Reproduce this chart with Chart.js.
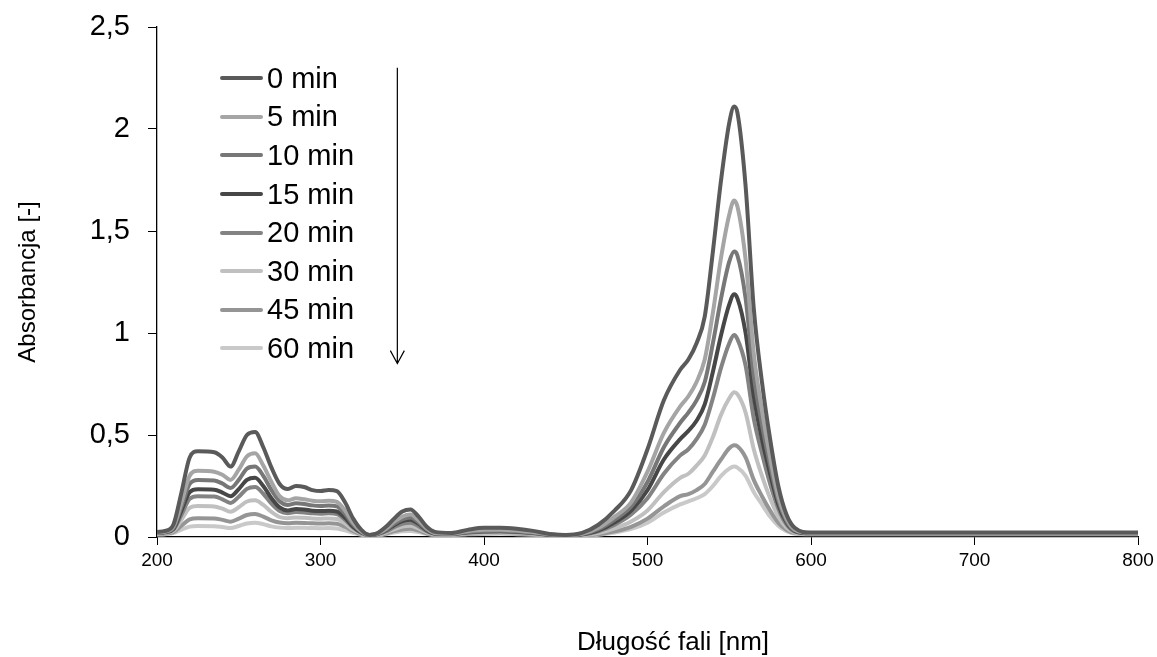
<!DOCTYPE html>
<html>
<head>
<meta charset="utf-8">
<script src="https://cdn.jsdelivr.net/npm/chart.js@4.4.0/dist/chart.umd.min.js"></script>
<style>
  body { margin: 0; background: #fff; }
  #wrap { position: relative; width: 1157px; height: 657px; font-family: 'Liberation Sans', Arial, sans-serif; }
  #legend { position: absolute; left: 220px; top: 59px; }
  .row { display: flex; align-items: center; height: 38.6px; font-size: 29px; color: #000; }
  .swatch { width: 43px; height: 4px; border-radius: 2px; margin-right: 4px; }
  #xtitle { position: absolute; left: 673px; top: 626px; transform: translateX(-50%); font-size: 26px; white-space: nowrap; }
</style>
</head>
<body>
<div id="wrap">
  <canvas id="chart" width="1157" height="657"></canvas>
  <div id="legend"></div>
  <div id="xtitle">Długość fali [nm]</div>
</div>
<script>
const wavelengths = [200,205,210,215,220,225,235,240,245,250,255,260,265,270,275,280,285,290,295,300,305,310,315,320,325,330,335,340,345,350,355,360,365,370,380,390,400,410,420,430,440,450,460,470,480,490,500,510,520,525,530,535,540,545,550,553,555,560,565,570,575,580,585,590,600,650,700,750,800];

const abs0 = [0.025,0.03,0.06,0.22,0.39,0.42, 0.415,0.39,0.345,0.42,0.50,0.515,0.44,0.34,0.26,0.235, 0.25,0.245,0.23,0.225,0.23,0.225,0.17,0.09,0.035,0.01, 0.02,0.05,0.09,0.125,0.135,0.10,0.05,0.025, 0.02,0.035,0.045,0.045,0.04,0.03,0.015,0.01,0.02, 0.06,0.13,0.23,0.43,0.67,0.82, 0.87,0.95,1.08,1.40,1.75,2.03, 2.11,2.08, 1.72,1.12,0.76,0.48,0.25,0.11,0.045, 0.022,0.022,0.022,0.022,0.022];
const abs5 = [0.022,0.027,0.05,0.17,0.30,0.325, 0.32,0.305,0.28,0.33,0.395,0.41,0.35,0.27,0.2,0.18, 0.19,0.185,0.178,0.175,0.178,0.172,0.13,0.07,0.028,0.01, 0.018,0.04,0.075,0.10,0.11,0.082,0.042,0.02, 0.017,0.028,0.035,0.036,0.032,0.024,0.013,0.009,0.016, 0.045,0.10,0.17,0.32,0.51,0.64, 0.69,0.76,0.87,1.10,1.37,1.58, 1.65,1.62, 1.36,0.90,0.62,0.39,0.20,0.09,0.037, 0.02,0.02,0.02,0.02,0.02];
const abs10 = [0.02,0.025,0.045,0.15,0.26,0.28, 0.277,0.262,0.24,0.28,0.335,0.345,0.30,0.23,0.175,0.157, 0.165,0.162,0.155,0.152,0.155,0.15,0.113,0.06,0.025,0.01, 0.016,0.035,0.065,0.087,0.095,0.072,0.037,0.018, 0.016,0.025,0.03,0.031,0.028,0.021,0.012,0.009,0.014, 0.038,0.085,0.15,0.27,0.44,0.56, 0.61,0.67,0.76,0.95,1.17,1.35, 1.40,1.38, 1.17,0.79,0.55,0.35,0.18,0.08,0.033, 0.02,0.02,0.02,0.02,0.02];
const abs15 = [0.02,0.024,0.04,0.13,0.22,0.234, 0.232,0.218,0.20,0.235,0.28,0.29,0.25,0.19,0.145,0.13, 0.137,0.135,0.129,0.127,0.129,0.125,0.094,0.05,0.022,0.009, 0.015,0.032,0.058,0.078,0.085,0.064,0.033,0.017, 0.015,0.023,0.028,0.029,0.026,0.02,0.011,0.008,0.013, 0.032,0.072,0.13,0.23,0.38,0.48, 0.52,0.57,0.65,0.81,0.99,1.14, 1.19,1.17, 1.00,0.69,0.48,0.31,0.16,0.072,0.03, 0.018,0.018,0.018,0.018,0.018];
const abs20 = [0.018,0.022,0.036,0.11,0.188,0.20, 0.198,0.185,0.167,0.197,0.236,0.245,0.212,0.163,0.127,0.117, 0.122,0.12,0.116,0.114,0.116,0.112,0.085,0.045,0.02,0.009, 0.013,0.027,0.048,0.065,0.07,0.053,0.028,0.015, 0.014,0.021,0.025,0.026,0.023,0.018,0.01,0.008,0.012, 0.028,0.06,0.11,0.19,0.31,0.40, 0.43,0.48,0.55,0.68,0.83,0.95, 0.99,0.97, 0.84,0.58,0.41,0.26,0.14,0.062,0.027, 0.018,0.018,0.018,0.018,0.018];
const abs30 = [0.016,0.02,0.03,0.085,0.143,0.152, 0.15,0.139,0.124,0.146,0.174,0.18,0.157,0.123,0.098,0.092, 0.096,0.094,0.091,0.09,0.091,0.088,0.067,0.036,0.017,0.008, 0.011,0.022,0.038,0.051,0.055,0.042,0.023,0.013, 0.012,0.017,0.02,0.021,0.019,0.015,0.009,0.007,0.01, 0.02,0.042,0.076,0.13,0.22,0.29, 0.31,0.35,0.40,0.49,0.60,0.68, 0.71,0.70, 0.61,0.43,0.30,0.19,0.10,0.046,0.022, 0.015,0.015,0.015,0.015,0.015];
const abs45 = [0.014,0.017,0.024,0.055,0.087,0.092, 0.091,0.084,0.075,0.09,0.108,0.113,0.1,0.082,0.071,0.068, 0.07,0.069,0.067,0.066,0.067,0.065,0.05,0.028,0.014,0.007, 0.009,0.017,0.029,0.037,0.04,0.031,0.018,0.011, 0.011,0.015,0.018,0.019,0.017,0.013,0.008,0.007,0.009, 0.014,0.028,0.05,0.09,0.15,0.20, 0.21,0.23,0.26,0.32,0.38,0.435, 0.45,0.445, 0.39,0.28,0.20,0.13,0.07,0.035,0.019, 0.016,0.016,0.016,0.016,0.016];
const abs60 = [0.012,0.014,0.019,0.036,0.051,0.054, 0.053,0.049,0.044,0.054,0.066,0.07,0.063,0.052,0.046,0.044, 0.045,0.045,0.044,0.043,0.044,0.042,0.033,0.02,0.011,0.006, 0.008,0.013,0.022,0.028,0.03,0.024,0.015,0.01, 0.01,0.013,0.015,0.016,0.014,0.011,0.007,0.006,0.008, 0.011,0.022,0.04,0.07,0.12,0.16, 0.175,0.19,0.21,0.25,0.30,0.335, 0.345,0.34, 0.30,0.22,0.16,0.10,0.055,0.028,0.016, 0.014,0.014,0.014,0.014,0.014];

const seriesLabels = ['0 min', '5 min', '10 min', '15 min', '20 min', '30 min', '45 min', '60 min'];
const seriesValues = [abs0, abs5, abs10, abs15, abs20, abs30, abs45, abs60];
const seriesColors = ['#5a5a5a', '#a5a5a5', '#777777', '#474747', '#838383', '#c0c0c0', '#959595', '#c9c9c9'];

const xTicks = [200, 300, 400, 500, 600, 700, 800];
const yTickLabels = ['0', '0,5', '1', '1,5', '2', '2,5'];

// arrow showing the direction of time (data coordinates)
const arrowX = 347;
const arrowTop = 2.3;
const arrowBottom = 0.85;

const datasets = seriesValues.map((vals, i) => ({
  label: seriesLabels[i],
  data: wavelengths.map((w, j) => ({ x: w, y: vals[j] })),
  borderColor: seriesColors[i],
  borderWidth: 4,
  pointRadius: 0,
  tension: 0.4,
  cubicInterpolationMode: 'monotone',
  fill: false
}));

const arrowPlugin = {
  id: 'arrow',
  afterDatasetsDraw(chart) {
    const { ctx, scales } = chart;
    const x = scales.x.getPixelForValue(arrowX);
    const y1 = scales.y.getPixelForValue(arrowTop);
    const y2 = scales.y.getPixelForValue(arrowBottom);
    ctx.save();
    ctx.strokeStyle = '#000';
    ctx.lineWidth = 1.2;
    ctx.beginPath();
    ctx.moveTo(x, y1);
    ctx.lineTo(x, y2);
    ctx.moveTo(x - 7, y2 - 13);
    ctx.lineTo(x, y2);
    ctx.lineTo(x + 7, y2 - 13);
    ctx.stroke();
    ctx.restore();
  }
};

new Chart(document.getElementById('chart'), {
  type: 'line',
  data: { datasets },
  plugins: [arrowPlugin],
  options: {
    responsive: false,
    animation: false,
    layout: { padding: { left: 0, right: 19, top: 27, bottom: 0 } },
    plugins: { legend: { display: false }, tooltip: { enabled: false } },
    scales: {
      x: {
        type: 'linear',
        min: 200,
        max: 800,
        afterBuildTicks: (scale) => { scale.ticks = xTicks.map(v => ({ value: v })); },
        afterFit: (scale) => { scale.height = 120; scale.paddingLeft = 0; scale.paddingRight = 0; },
        grid: { drawOnChartArea: false, drawTicks: true, tickLength: 8, color: '#000' },
        border: { color: '#000', width: 1.3 },
        ticks: {
          padding: 4,
          color: '#000',
          font: { family: "'Liberation Sans Narrow', 'Liberation Sans', Arial", size: 19 }
        },
        title: { display: false }
      },
      y: {
        min: 0,
        max: 2.5,
        afterFit: (scale) => { scale.width = 157; scale.paddingTop = 0; scale.paddingBottom = 0; },
        grid: { drawOnChartArea: false, drawTicks: true, tickLength: 9, color: '#000' },
        border: { color: '#000', width: 1.3 },
        ticks: {
          stepSize: 0.5,
          padding: 18,
          color: '#000',
          font: { family: "'Liberation Sans', Arial", size: 29 },
          callback: (v, i) => yTickLabels[i]
        },
        title: {
          display: true,
          text: 'Absorbancja [-]',
          color: '#000',
          padding: { top: 14, bottom: 0 },
          font: { family: "'Liberation Sans', Arial", size: 24 }
        }
      }
    }
  }
});

const legend = document.getElementById('legend');
seriesLabels.forEach((lab, i) => {
  const row = document.createElement('div');
  row.className = 'row';
  row.innerHTML = `<span class="swatch" style="background:${seriesColors[i]}"></span><span>${lab}</span>`;
  legend.appendChild(row);
});
</script>
</body>
</html>
